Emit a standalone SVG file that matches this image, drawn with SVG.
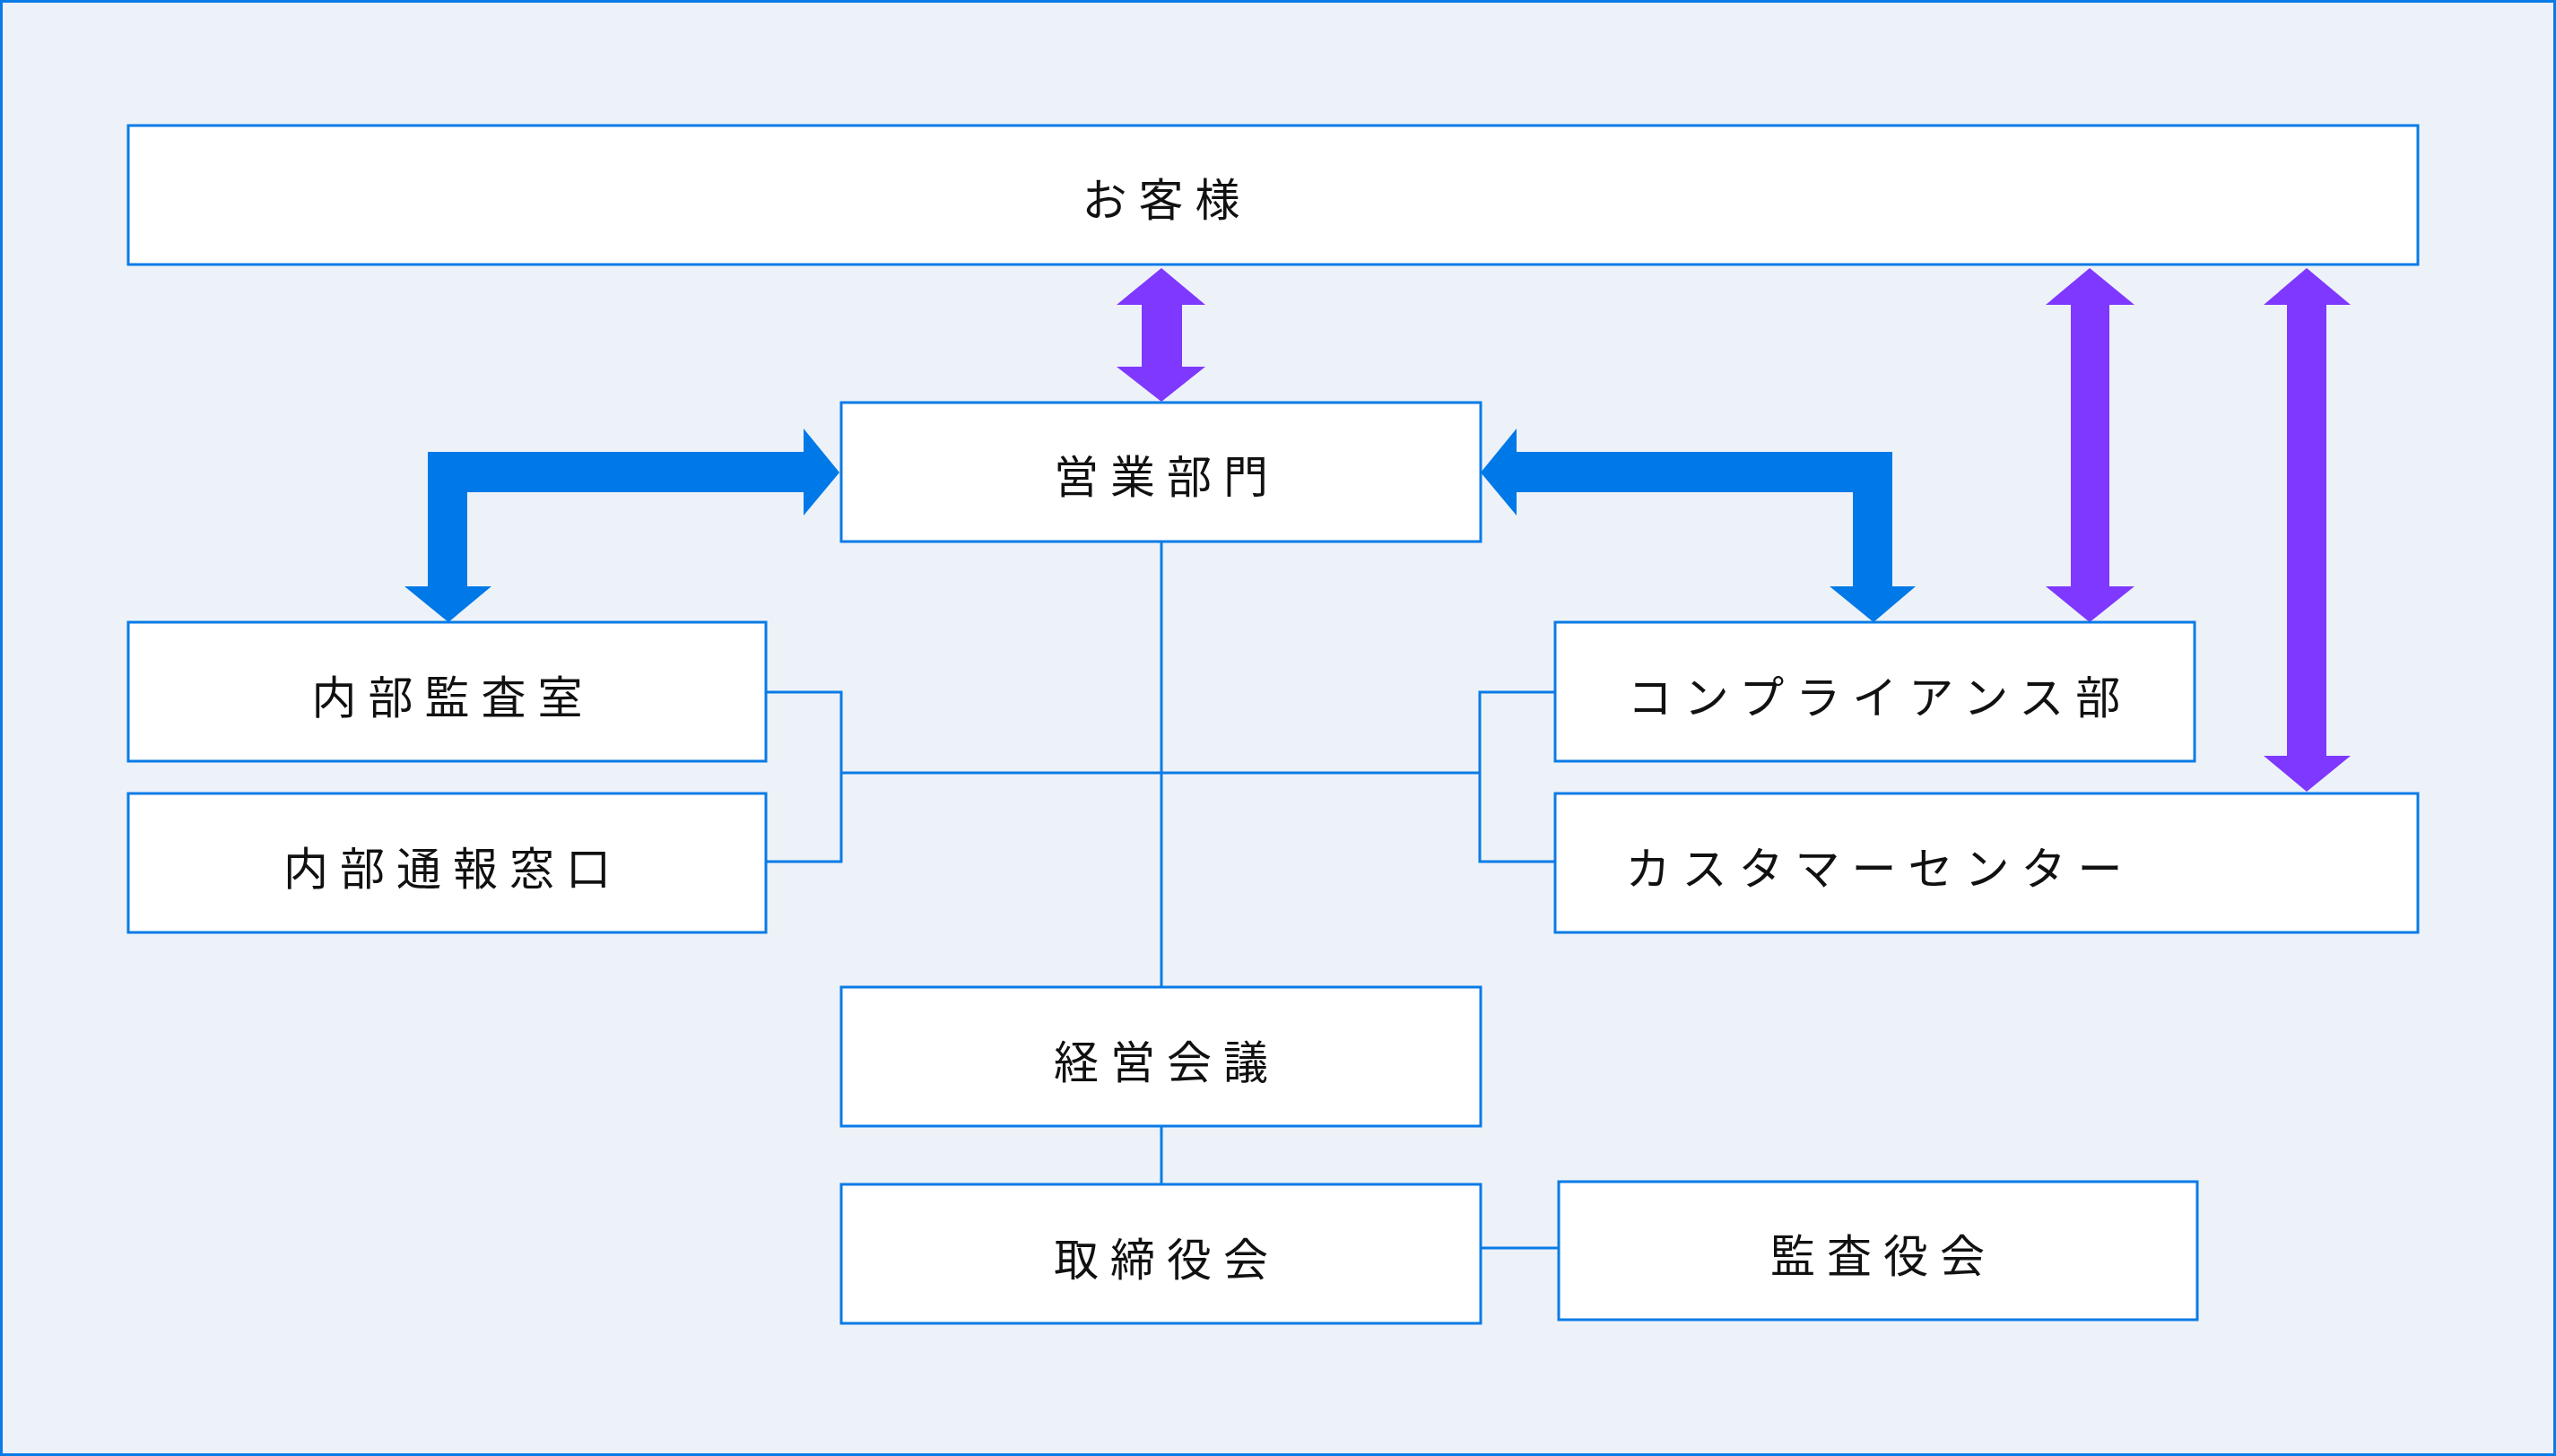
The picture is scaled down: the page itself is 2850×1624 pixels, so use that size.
<svg xmlns="http://www.w3.org/2000/svg" width="2850" height="1624" viewBox="0 0 2850 1624">
<style>
.box{fill:#fff;stroke:#0a7be6;stroke-width:3}
.t{font-family:"Noto Sans CJK JP","Noto Sans",sans-serif;font-size:50px;fill:#111;text-anchor:middle;dominant-baseline:central;letter-spacing:13px}
.ln{fill:none;stroke:#0a7be6;stroke-width:3}
.pu{fill:#7f38ff}
.bl{fill:#0079e8}
</style>
<rect x="1.5" y="1.5" width="2847" height="1621" fill="#edf2f9" stroke="#0a7be6" stroke-width="3"/>
<g id="connectors">
<path class="ln" d="M1295 604V1101M1295 1256V1321M938 862H1650M854 772H938V961H854M1734 772H1650V961H1734M1651 1392H1738"/>
<path class="pu" d="M1295 299L1344 340H1318V409H1344L1295 448L1245 409H1273V340H1245Z"/>
<path class="pu" d="M2330 299L2380 340H2352V654H2380L2330 694L2281 654H2309V340H2281Z"/>
<path class="pu" d="M2572 299L2621 340H2594V843H2621L2572 883L2524 843H2550V340H2524Z"/>
<path class="bl" d="M936 527L896 478V504H477V654H451L500 694L548 654H521V549H896V575Z"/>
<path class="bl" d="M1651 527L1691 478V504H2110V654H2136L2089 694L2040 654H2066V549H1691V575Z"/>
</g>
<g id="customer"><rect class="box" x="143" y="140" width="2553" height="155"/><text class="t" x="1301" y="219">お客様</text></g>
<g id="sales"><rect class="box" x="938" y="449" width="713" height="155"/><text class="t" x="1301" y="528">営業部門</text></g>
<g id="audit"><rect class="box" x="143" y="694" width="711" height="155"/><text class="t" x="505" y="774">内部監査室</text></g>
<g id="whistle"><rect class="box" x="143" y="885" width="711" height="155"/><text class="t" x="505" y="965">内部通報窓口</text></g>
<g id="compliance"><rect class="box" x="1734" y="694" width="713" height="155"/><text class="t" x="2096" y="774">コンプライアンス部</text></g>
<g id="callcenter"><rect class="box" x="1734" y="885" width="962" height="155"/><text class="t" x="2096" y="965">カスタマーセンター</text></g>
<g id="mgmt"><rect class="box" x="938" y="1101" width="713" height="155"/><text class="t" x="1301" y="1181">経営会議</text></g>
<g id="board"><rect class="box" x="938" y="1321" width="713" height="155"/><text class="t" x="1301" y="1401">取締役会</text></g>
<g id="auditors"><rect class="box" x="1738" y="1318" width="712" height="154"/><text class="t" x="2100" y="1397">監査役会</text></g>
</svg>
